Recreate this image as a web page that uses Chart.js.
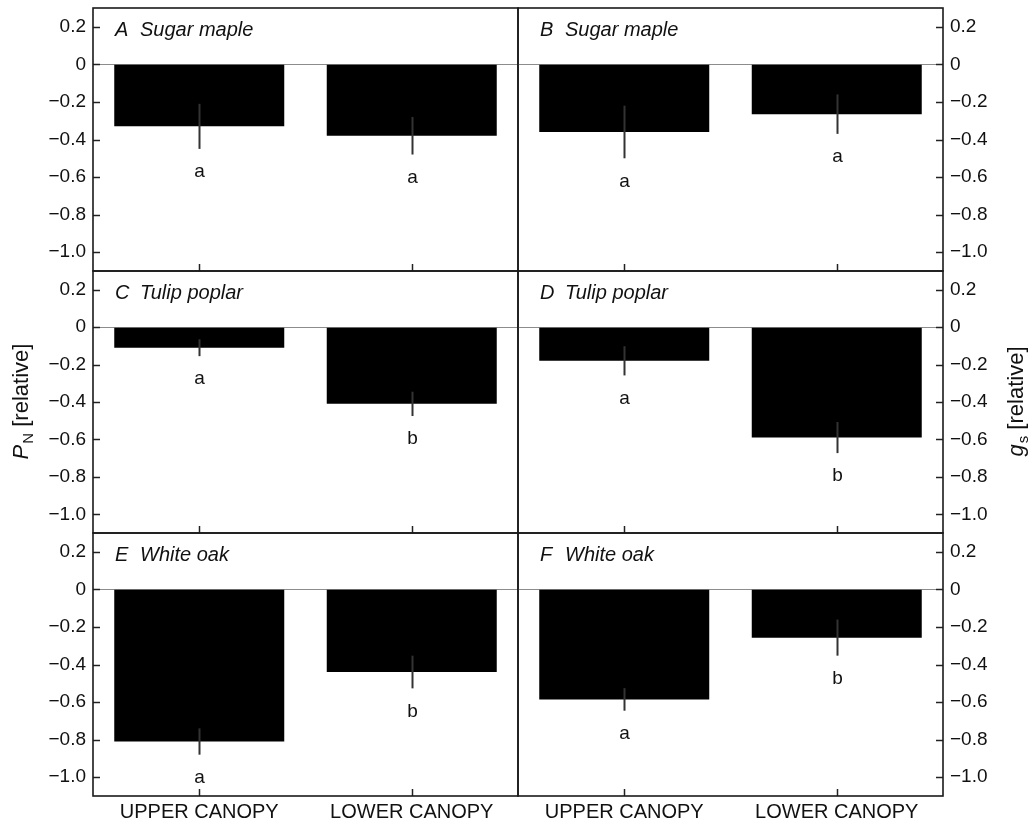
<!DOCTYPE html>
<html>
<head>
<meta charset="utf-8">
<script src="https://cdn.jsdelivr.net/npm/chart.js@4.4.1/dist/chart.umd.min.js"></script>
<style>
  html, body { margin: 0; padding: 0; background: #fff; }
  #wrap { position: relative; width: 1028px; height: 823px; overflow: hidden; }
  #wrap canvas { position: absolute; left: 0; top: 0; }
</style>
</head>
<body>
<div id="wrap"></div>
<script>
// Categories and y tick values shared by all six panels
const categories = ['UPPER CANOPY', 'LOWER CANOPY'];
const yTicks = [0.2, 0, -0.2, -0.4, -0.6, -0.8, -1.0];

const panelLetters = ['A', 'B', 'C', 'D', 'E', 'F'];
const panelSpecies = ['Sugar maple', 'Sugar maple', 'Tulip poplar', 'Tulip poplar', 'White oak', 'White oak'];

// Relative net photosynthesis (P_N): mean and SE for upper / lower canopy
const pnSugarMaple = [-0.33, -0.38];
const pnSugarMapleSE = [0.12, 0.10];
const pnTulipPoplar = [-0.11, -0.41];
const pnTulipPoplarSE = [0.045, 0.065];
const pnWhiteOak = [-0.81, -0.44];
const pnWhiteOakSE = [0.07, 0.087];

// Relative stomatal conductance (g_s): mean and SE for upper / lower canopy
const gsSugarMaple = [-0.36, -0.265];
const gsSugarMapleSE = [0.14, 0.105];
const gsTulipPoplar = [-0.18, -0.59];
const gsTulipPoplarSE = [0.078, 0.083];
const gsWhiteOak = [-0.586, -0.257];
const gsWhiteOakSE = [0.06, 0.096];

// Significance letters (upper, lower)
const sigSugarMaplePN = ['a', 'a'];
const sigSugarMapleGS = ['a', 'a'];
const sigTulipPoplarPN = ['a', 'b'];
const sigTulipPoplarGS = ['a', 'b'];
const sigWhiteOakPN = ['a', 'b'];
const sigWhiteOakGS = ['a', 'b'];

// ---- page geometry ----
const W = 1028, H = 823;
const FRAME_LEFT = 93, FRAME_MID = 518, FRAME_RIGHT = 943;
const ROW_EDGES = [8, 271, 533, 796];
const FONT = '"Liberation Sans", Arial, Helvetica, sans-serif';
const INK = '#111';

const panels = [
  { values: pnSugarMaple,  errors: pnSugarMapleSE,  sig: sigSugarMaplePN,  col: 0, row: 0 },
  { values: gsSugarMaple,  errors: gsSugarMapleSE,  sig: sigSugarMapleGS,  col: 1, row: 0 },
  { values: pnTulipPoplar, errors: pnTulipPoplarSE, sig: sigTulipPoplarPN, col: 0, row: 1 },
  { values: gsTulipPoplar, errors: gsTulipPoplarSE, sig: sigTulipPoplarGS, col: 1, row: 1 },
  { values: pnWhiteOak,    errors: pnWhiteOakSE,    sig: sigWhiteOakPN,    col: 0, row: 2 },
  { values: gsWhiteOak,    errors: gsWhiteOakSE,    sig: sigWhiteOakGS,    col: 1, row: 2 }
];

function formatTick(v) {
  if (Math.abs(v) < 1e-9) return '0';
  return (v < 0 ? '\u2212' : '') + Math.abs(v).toFixed(1);
}

// Rotated axis title with an italic symbol and a subscript
function drawAxisTitle(ctx, baseX, centerY, symbol, sub, rest) {
  const fSym = 'italic 22px ' + FONT;
  const fSub = '15px ' + FONT;
  const fRest = '22px ' + FONT;
  ctx.save();
  ctx.translate(baseX, centerY);
  ctx.rotate(-Math.PI / 2);
  ctx.fillStyle = INK;
  ctx.textBaseline = 'alphabetic';
  ctx.textAlign = 'left';
  ctx.font = fSym; const w1 = ctx.measureText(symbol).width;
  ctx.font = fSub; const w2 = ctx.measureText(sub).width;
  ctx.font = fRest; const w3 = ctx.measureText(rest).width;
  let x = -(w1 + w2 + w3) / 2;
  ctx.font = fSym; ctx.fillText(symbol, x, 0); x += w1 + 1;
  ctx.font = fSub; ctx.fillText(sub, x, 5); x += w2;
  ctx.font = fRest; ctx.fillText(rest, x, 0);
  ctx.restore();
}

const wrap = document.getElementById('wrap');

panels.forEach((p, idx) => {
  const isLeft = p.col === 0;
  const isBottom = p.row === 2;
  const canvas = document.createElement('canvas');
  canvas.width = W;
  canvas.height = H;
  canvas.style.width = W + 'px';
  canvas.style.height = H + 'px';
  wrap.appendChild(canvas);

  const panelDecor = {
    id: 'panelDecor' + idx,
    afterDatasetsDraw(chart) {
      const ctx = chart.ctx;
      const xs = chart.scales.x, ys = chart.scales.y;
      ctx.save();
      // error bars
      ctx.strokeStyle = '#333';
      ctx.lineWidth = 2;
      p.values.forEach((v, i) => {
        const x = Math.round(xs.getPixelForValue(i)) + 0.5;
        const yHi = ys.getPixelForValue(v + p.errors[i]);
        const yLo = ys.getPixelForValue(v - p.errors[i]);
        ctx.beginPath();
        ctx.moveTo(x, yHi);
        ctx.lineTo(x, yLo);
        ctx.stroke();
        // significance letter below the error bar
        ctx.fillStyle = INK;
        ctx.font = '19px ' + FONT;
        ctx.textAlign = 'center';
        ctx.textBaseline = 'middle';
        ctx.fillText(p.sig[i], x, yLo + 23);
      });
      ctx.restore();
    },
    afterDraw(chart) {
      const ctx = chart.ctx;
      const a = chart.chartArea;
      const xs = chart.scales.x, ys = chart.scales.y;
      ctx.save();
      // inward tick marks
      ctx.strokeStyle = '#222';
      ctx.lineWidth = 1.5;
      yTicks.forEach(t => {
        const y = Math.round(ys.getPixelForValue(t)) + 0.5;
        ctx.beginPath();
        if (isLeft) { ctx.moveTo(a.left, y); ctx.lineTo(a.left + 7, y); }
        else { ctx.moveTo(a.right, y); ctx.lineTo(a.right - 7, y); }
        ctx.stroke();
      });
      categories.forEach((c, i) => {
        const x = Math.round(xs.getPixelForValue(i)) + 0.5;
        ctx.beginPath();
        ctx.moveTo(x, a.bottom);
        ctx.lineTo(x, a.bottom - 7);
        ctx.stroke();
      });
      // panel frame
      ctx.lineWidth = 1.6;
      ctx.strokeStyle = '#1a1a1a';
      ctx.strokeRect(a.left, a.top, a.right - a.left, a.bottom - a.top);
      // panel heading
      ctx.fillStyle = INK;
      ctx.font = 'italic 20px ' + FONT;
      ctx.textAlign = 'left';
      ctx.textBaseline = 'alphabetic';
      ctx.fillText(panelLetters[idx], a.left + 22, a.top + 28);
      ctx.fillText(panelSpecies[idx], a.left + 47, a.top + 28);
      // shared axis titles, placed on the middle row
      if (p.row === 1) {
        const cy = (a.top + a.bottom) / 2;
        if (isLeft) drawAxisTitle(ctx, 28, cy, 'P', 'N', ' [relative]');
        else drawAxisTitle(ctx, 1023, cy, 'g', 's', ' [relative]');
      }
      ctx.restore();
    }
  };

  new Chart(canvas, {
    type: 'bar',
    data: {
      labels: categories,
      datasets: [{
        data: p.values,
        backgroundColor: '#000',
        borderWidth: 0,
        categoryPercentage: 0.8,
        barPercentage: 1.0
      }]
    },
    options: {
      responsive: false,
      animation: false,
      devicePixelRatio: 1,
      layout: {
        padding: {
          left: isLeft ? 0 : FRAME_MID,
          right: isLeft ? W - FRAME_MID : 0,
          top: ROW_EDGES[p.row],
          bottom: isBottom ? 0 : H - ROW_EDGES[p.row + 1]
        }
      },
      plugins: {
        legend: { display: false },
        tooltip: { enabled: false },
        title: { display: false }
      },
      scales: {
        x: {
          display: isBottom,
          grid: { display: false, drawTicks: false },
          border: { display: false },
          ticks: {
            display: isBottom,
            font: { family: FONT, size: 20 },
            color: INK,
            padding: 4,
            maxRotation: 0,
            autoSkip: false
          },
          afterFit(s) {
            s.height = isBottom ? H - ROW_EDGES[3] : 0;
            s.paddingLeft = 0; s.paddingRight = 0;
          }
        },
        y: {
          position: isLeft ? 'left' : 'right',
          min: -1.1,
          max: 0.3,
          afterBuildTicks(s) { s.ticks = yTicks.map(v => ({ value: v })); },
          ticks: {
            callback: formatTick,
            font: { family: FONT, size: 19 },
            color: INK,
            padding: 7
          },
          grid: {
            drawTicks: false,
            lineWidth: 1,
            color: ctx => (ctx.tick && Math.abs(ctx.tick.value) < 1e-9) ? '#8c8c8c' : 'rgba(0,0,0,0)'
          },
          border: { display: false },
          afterFit(s) {
            s.width = isLeft ? FRAME_LEFT : W - FRAME_RIGHT;
            s.paddingTop = 0; s.paddingBottom = 0;
          }
        }
      }
    },
    plugins: [panelDecor]
  });
});
</script>
</body>
</html>
